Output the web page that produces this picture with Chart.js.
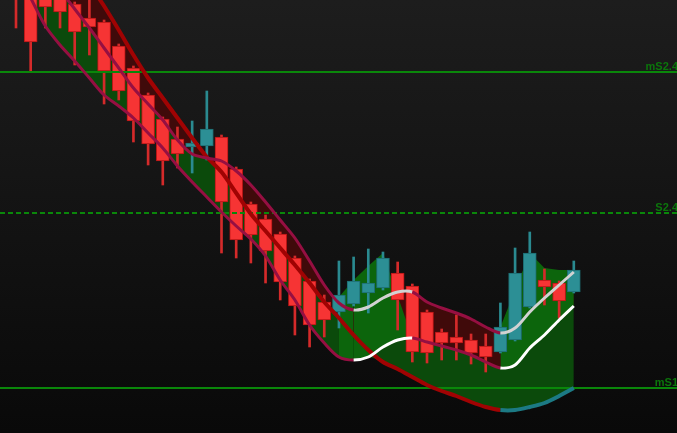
<!DOCTYPE html>
<html lang="en">
<head>
<meta charset="UTF-8">
<title>Trend bands</title>
<script src="https://cdn.jsdelivr.net/npm/chart.js"></script>
<style>
  html, body { margin: 0; padding: 0; }
  body { width: 677px; height: 433px; overflow: hidden; background: linear-gradient(#1d1d1d, #090909); }
  canvas { display: block; }
</style>
</head>
<body>
<canvas id="chart" width="677" height="433"></canvas>
<script>
// candles, oldest first
const opens  = [45.3, 44.3, 44.1, 43.7, 42.9, 41.5, 41.1, 38.7, 36.5, 33.8, 31.4, 29.4, 28.6, 28.7, 29.6, 26.4, 22.9, 21.4, 19.9, 17.5, 15.2, 13.1, 12.1, 12.9, 14.0, 14.5, 16.0, 14.7, 12.1, 10.1, 9.6, 9.3, 8.7, 8.1, 9.3, 12.6, 15.3, 15.0, 14.1];
const highs  = [46.3, 44.8, 44.5, 44.1, 43.1, 43.6, 41.3, 38.9, 36.7, 34.0, 31.6, 30.6, 31.2, 34.2, 29.8, 26.6, 23.1, 21.8, 20.1, 17.7, 15.4, 13.8, 17.2, 17.6, 18.4, 18.1, 17.1, 14.9, 12.3, 10.4, 11.8, 9.9, 9.9, 13.0, 18.5, 20.1, 16.4, 15.2, 17.2];
const lows   = [40.5, 36.1, 40.5, 40.5, 36.8, 37.8, 32.9, 33.3, 29.1, 26.8, 24.8, 26.5, 26.0, 27.3, 18.0, 17.5, 17.0, 15.0, 13.3, 9.8, 8.6, 9.6, 10.5, 12.7, 12.0, 14.3, 10.3, 7.1, 7.0, 7.3, 7.3, 6.9, 6.1, 8.0, 9.2, 12.5, 12.8, 11.5, 14.0];
const closes = [43.8, 39.1, 42.6, 42.1, 40.1, 40.6, 36.2, 34.2, 31.2, 28.9, 27.2, 27.9, 29.0, 30.4, 23.1, 19.3, 19.8, 18.2, 15.1, 12.7, 10.8, 11.3, 13.8, 15.2, 15.0, 17.5, 13.3, 8.1, 8.0, 9.0, 9.0, 8.0, 7.6, 10.6, 16.0, 18.0, 14.6, 13.2, 16.3];

// indicator lines
const trendLine = [56.8, 54.3, 52.1, 49.7, 47.3, 44.9, 42.7, 40.3, 37.8, 35.5, 33.5, 31.5, 29.5, 27.6, 26.1, 24.0, 21.9, 20.2, 18.5, 16.8, 15.0, 13.1, 11.5, 9.8, 8.3, 7.1, 6.4, 5.6, 4.8, 4.2, 3.7, 3.1, 2.6, 2.3, 2.3, 2.6, 3.0, 3.7, 4.5];
const upperBand = [50.1, 48.1, 46.3, 44.3, 42.4, 40.5, 38.5, 36.5, 34.5, 32.9, 31.3, 29.3, 27.9, 27.5, 27.2, 26.2, 24.8, 23.1, 21.3, 19.5, 17.2, 14.8, 13.0, 12.3, 12.6, 13.5, 14.1, 14.1, 13.1, 12.5, 12.0, 11.4, 10.6, 10.0, 10.5, 12.1, 13.5, 14.8, 16.1];
const lowerBand = [46.3, 43.5, 40.7, 38.8, 37.2, 35.5, 33.8, 32.7, 31.5, 30.0, 28.5, 26.7, 25.1, 23.6, 22.1, 20.7, 19.4, 17.7, 15.3, 13.3, 10.8, 9.0, 7.6, 7.3, 7.6, 8.6, 9.3, 9.5, 9.1, 8.7, 8.3, 7.8, 7.1, 6.5, 6.8, 8.5, 9.8, 11.3, 12.7];
const fastLine  = [null, null, null, null, null, null, null, null, null, null, null, null, null, null, null, null, null, null, null, null, null, null,
                   13.6, 15.3, 16.7, 18.0, 13.7, 9.5, null, null, null, null, null, 10.6, 14.3, 18.0, 16.5, 16.3, 16.3];
const upSpans = [[23, 27], [33, 38]];
const trendFlip = 33;

// horizontal levels
const levelValues = [36.1, 22.0, 4.5];
const levelLabels = ['mS2.4', 'S2.4', 'mS1'];
const levelDashed = [false, true, false];

const idx = opens.map((_, i) => i);
const pts = arr => arr.map((y, i) => ({ x: i, y }));
const rising = i => closes[i] >= opens[i];
const inUp = i => upSpans.some(([a, b]) => i >= a && i < b);

const hiEdge = idx.map(i => Math.max(upperBand[i], lowerBand[i], trendLine[i]));
const loEdge = idx.map(i => Math.min(upperBand[i], lowerBand[i], trendLine[i]));
const midEdge = idx.map(i => upperBand[i] + lowerBand[i] + trendLine[i] - hiEdge[i] - loEdge[i]);

const edge = { type: 'line', borderColor: 'transparent', borderWidth: 0, pointRadius: 0, tension: 0.3 };

const levelPlugin = {
    id: 'levels',
    afterDatasetDraw(chart, args) {
        if (args.index !== 5) return;
        const { ctx, chartArea, scales } = chart;
        levelValues.forEach((v, k) => {
            const y = Math.round(scales.y.getPixelForValue(v));
            ctx.save();
            ctx.strokeStyle = '#0a870a';
            ctx.lineWidth = 2;
            ctx.setLineDash(levelDashed[k] ? [5, 3] : []);
            ctx.beginPath();
            ctx.moveTo(chartArea.left, y);
            ctx.lineTo(chartArea.right, y);
            ctx.stroke();
            ctx.fillStyle = '#0b760b';
            ctx.font = 'bold 11px "Liberation Sans", Arial, sans-serif';
            ctx.textAlign = 'right';
            ctx.fillText(levelLabels[k], chartArea.right + 1, y - 2);
            ctx.restore();
        });
    }
};

new Chart(document.getElementById('chart'), {
    type: 'bar',
    data: {
        datasets: [
            { ...edge, data: pts(loEdge), fill: false, order: 100 },
            { ...edge, data: pts(hiEdge), fill: 0, backgroundColor: '#0b4a0b', order: 99 },
            { ...edge, data: pts(midEdge), fill: 1, backgroundColor: '#400a0a', order: 98 },
            { ...edge, data: pts(fastLine), tension: 0, fill: 7, backgroundColor: '#0c650c', order: 97 },
            {
                type: 'bar',
                data: idx.map(i => ({ x: i, y: [lows[i], highs[i]] })),
                backgroundColor: c => rising(c.dataIndex) ? '#2a8a90' : '#d42a2a',
                barThickness: 2,
                grouped: false,
                order: 60
            },
            {
                type: 'bar',
                data: idx.map(i => ({ x: i, y: [opens[i], closes[i]] })),
                backgroundColor: c => rising(c.dataIndex) ? '#2c8f95' : '#f63434',
                borderColor: c => rising(c.dataIndex) ? '#1d6b70' : '#b51515',
                borderWidth: 1,
                borderSkipped: false,
                barThickness: 13,
                grouped: false,
                order: 50
            },
            {
                type: 'line',
                data: pts(trendLine),
                borderWidth: 4,
                pointRadius: 0,
                tension: 0.3,
                fill: false,
                borderColor: '#a00303',
                segment: { borderColor: c => c.p0DataIndex >= trendFlip ? '#1c7a84' : '#a00303' },
                order: 30
            },
            {
                type: 'line',
                data: pts(lowerBand),
                borderWidth: 3,
                pointRadius: 0,
                tension: 0.3,
                fill: false,
                borderColor: '#960f42',
                segment: { borderColor: c => inUp(c.p0DataIndex) ? '#ffffff' : '#960f42' },
                order: 20
            },
            {
                type: 'line',
                data: pts(upperBand),
                borderWidth: 3,
                pointRadius: 0,
                tension: 0.3,
                fill: false,
                borderColor: '#960f42',
                segment: { borderColor: c => inUp(c.p0DataIndex) ? '#d2d2d2' : '#960f42' },
                order: 10
            }
        ]
    },
    options: {
        responsive: false,
        animation: false,
        events: [],
        layout: { padding: 0 },
        plugins: { legend: { display: false }, tooltip: { enabled: false } },
        scales: {
            x: { type: 'linear', min: -1.09, max: 45.03, offset: false, display: false },
            y: { type: 'linear', min: 0, max: 43.3, display: false }
        }
    },
    plugins: [levelPlugin]
});
</script>
</body>
</html>
